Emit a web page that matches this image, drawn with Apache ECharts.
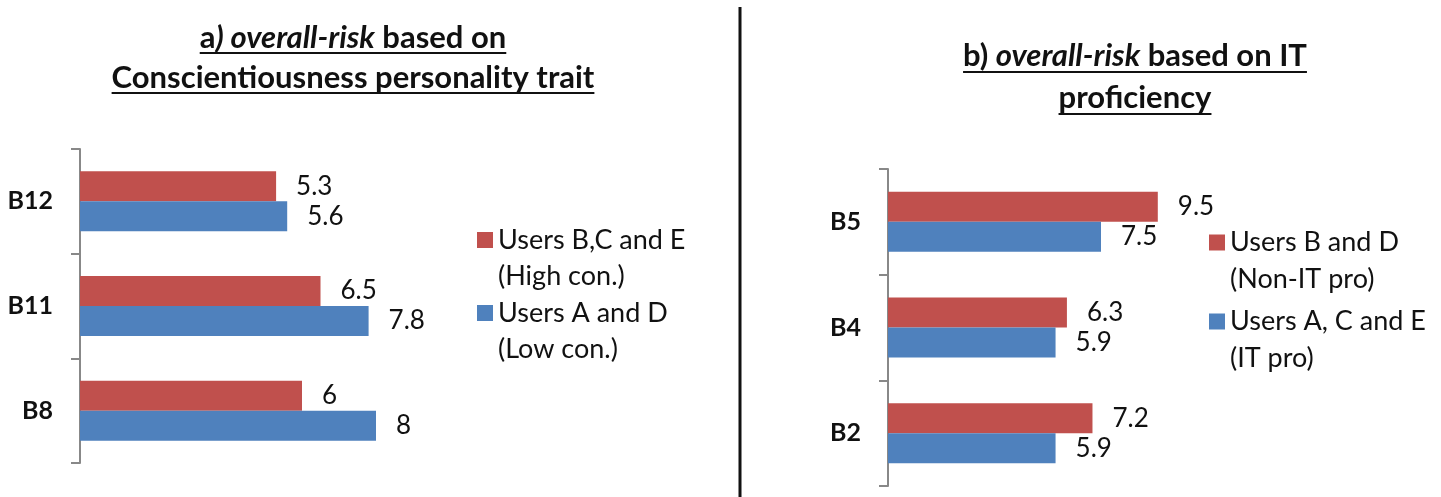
<!DOCTYPE html>
<html>
<head>
<meta charset="utf-8">
<script src="https://cdn.jsdelivr.net/npm/echarts@6/dist/echarts.min.js"></script>
<style>
html,body{margin:0;padding:0;background:#fff}
#chart{width:1441px;height:497px}
</style>
</head>
<body>
<div id="chart"></div>
<script>
// panel a) conscientiousness
var catsA = ['B12', 'B11', 'B8'];
var highCon = [5.3, 6.5, 6];
var lowCon = [5.6, 7.8, 8];
var namesA = ['Users B,C and E (High con.)', 'Users A and D (Low con.)'];

// panel b) IT proficiency
var catsB = ['B5', 'B4', 'B2'];
var nonIT = [9.5, 6.3, 7.2];
var itPro = [7.5, 5.9, 5.9];
var namesB = ['Users B and D (Non-IT pro)', 'Users A, C and E (IT pro)'];

var RED = '#C0504D', BLUE = '#4F81BD', INK = '#111';
var FONT = 'Lato';

var chart = echarts.init(document.getElementById('chart'));

// title lines, drawn as graphic text with an underline under each
var titleLines = [
	{cx: 353, y: 38, uy: 53, parts: [['a', 'b'], [') overall-risk', 'bi'], [' based on', 'b']]},
	{cx: 353, y: 78, uy: 93, parts: [['Conscientiousness personality trait', 'b']]},
	{cx: 1135, y: 56, uy: 72, parts: [['b) ', 'b'], ['overall-risk', 'bi'], [' based on IT', 'b']]},
	{cx: 1135, y: 98, uy: 114, parts: [['proficiency', 'b']]}
];

var TSIZE = 31;
var ctx = document.createElement('canvas').getContext('2d');
function segWidth(txt, st){
	ctx.font = (st == 'bi' ? 'italic ' : '') + 'bold ' + TSIZE + 'px ' + FONT;
	return ctx.measureText(txt).width;
}

var graphics = [];
titleLines.forEach(function(line){
	var txt = '', w = 0;
	line.parts.forEach(function(p){
		txt += '{' + p[1] + '|' + p[0] + '}';
		w += segWidth(p[0], p[1]);
	});
	graphics.push({
		type: 'text',
		style: {
			text: txt, x: line.cx, y: line.y, align: 'center', verticalAlign: 'middle',
			rich: {
				b: {fontFamily: FONT, fontWeight: 'bold', fontSize: TSIZE, fill: INK},
				bi: {fontFamily: FONT, fontWeight: 'bold', fontStyle: 'italic', fontSize: TSIZE, fill: INK}
			}
		}
	});
	graphics.push({
		type: 'line',
		shape: {x1: line.cx - w / 2, y1: line.uy, x2: line.cx + w / 2, y2: line.uy},
		style: {stroke: INK, lineWidth: 2}
	});
});
// divider between the two panels
graphics.push({
	type: 'line',
	shape: {x1: 740, y1: 7, x2: 740, y2: 497},
	style: {stroke: INK, lineWidth: 3}
});

function barSeries(name, data, color, idx){
	return {
		name: name,
		type: 'bar',
		xAxisIndex: idx,
		yAxisIndex: idx,
		data: data,
		barWidth: 30,
		barGap: '0%',
		itemStyle: {color: color},
		label: {show: true, position: 'right', distance: 20, fontFamily: FONT, fontSize: 26, color: INK}
	};
}

function catAxis(cats, idx){
	return {
		type: 'category',
		gridIndex: idx,
		data: cats,
		inverse: true,
		axisLine: {show: true, lineStyle: {color: '#888', width: 2}},
		axisTick: {show: true, length: 9, lineStyle: {color: '#888', width: 2}},
		axisLabel: {margin: 27, fontFamily: FONT, fontWeight: 'bold', fontSize: 25, color: INK}
	};
}

function valAxis(idx){
	return {type: 'value', gridIndex: idx, min: 0, max: 10, show: false};
}

// leading empty line puts the first text line level with the icon
function legendFmt(name){
	return '\n' + name.replace(' (', '\n(');
}

function legendOpt(names, left, top, lh, gap){
	return {
		data: names,
		orient: 'vertical',
		left: left,
		top: top,
		padding: 0,
		itemGap: gap,
		itemWidth: 16,
		itemHeight: 16,
		icon: 'rect',
		selectedMode: false,
		formatter: legendFmt,
		textStyle: {fontFamily: FONT, fontSize: 27, color: INK, lineHeight: lh}
	};
}

var option = {
	animation: false,
	backgroundColor: '#fff',
	grid: [
		{left: 80, top: 149, width: 370, height: 314},
		{left: 888, top: 169, width: 284, height: 317}
	],
	xAxis: [valAxis(0), valAxis(1)],
	yAxis: [catAxis(catsA, 0), catAxis(catsB, 1)],
	legend: [
		legendOpt(namesA, 477, 186, 36, -35),
		legendOpt(namesB, 1209, 187, 37, -32)
	],
	series: [
		barSeries(namesA[0], highCon, RED, 0),
		barSeries(namesA[1], lowCon, BLUE, 0),
		barSeries(namesB[0], nonIT, RED, 1),
		barSeries(namesB[1], itPro, BLUE, 1)
	],
	graphic: graphics
};

chart.setOption(option);
</script>
</body>
</html>
